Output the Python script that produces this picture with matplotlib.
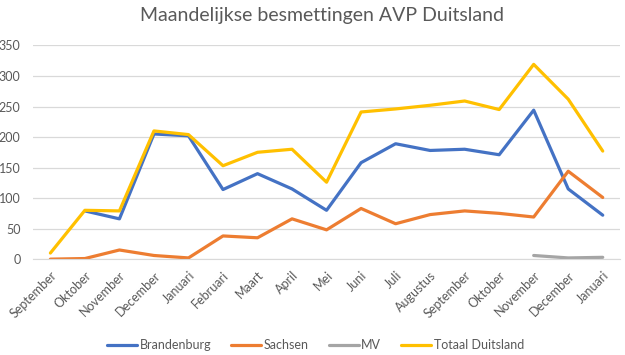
import matplotlib
matplotlib.use("Agg")
import matplotlib.pyplot as plt
import numpy as np

months = ["September", "Oktober", "November", "December", "Januari", "Februari", "Maart",
          "April", "Mei", "Juni", "Juli", "Augustus", "September", "Oktober", "November",
          "December", "Januari"]
brandenburg = [np.nan, 79, 66, 205, 202, 114, 140, 115, 80, 158, 189, 178, 180, 171, 244, 115, 72]
sachsen = [0, 1, 15, 6, 2, 38, 35, 66, 48, 83, 58, 73, 79, 75, 69, 144, 101]
mv = [np.nan] * 14 + [6, 2, 3]
totaal = [10, 80, 79, 210, 204, 153, 175, 180, 126, 241, 246, 252, 259, 245, 319, 262, 177]

plt.rcParams['font.family'] = ['Lato', 'DejaVu Sans']
fig = plt.figure(figsize=(6.25, 3.55), dpi=100)
ax = fig.add_axes([0.053, 0.270, 0.939, 0.602])

x = np.arange(len(months))
lw = 2.3
ax.plot(x, brandenburg, color="#4472C4", lw=lw, label="Brandenburg", solid_capstyle="round")
ax.plot(x, sachsen, color="#ED7D31", lw=lw, label="Sachsen", solid_capstyle="round")
ax.plot(x, mv, color="#A5A5A5", lw=lw, label="MV", solid_capstyle="round")
ax.plot(x, totaal, color="#FFC000", lw=lw, label="Totaal Duitsland", solid_capstyle="round")

ax.set_xlim(-0.5, len(months) - 0.5)
ax.set_ylim(0, 350)
ax.set_yticks(range(0, 351, 50))
ax.yaxis.grid(True, color="#D9D9D9", lw=0.9)
ax.set_axisbelow(True)
for s in ax.spines.values():
    s.set_visible(False)
ax.spines['bottom'].set_visible(True)
ax.spines['bottom'].set_color("#D9D9D9")
ax.tick_params(axis='both', length=0, colors="#595959", labelsize=9)
ax.tick_params(axis='y', pad=9)
ax.set_xticks(x)
ax.set_xticklabels(months, rotation=45, ha='right', rotation_mode='anchor')
ax.tick_params(axis='x', pad=7)

fig.text(0.516, 0.955, "Maandelijkse besmettingen AVP Duitsland", ha='center', va='center',
         fontsize=14, color="#595959")

leg = fig.legend(loc='center', bbox_to_anchor=(0.505, 0.028), ncol=4, frameon=False,
                 fontsize=9, handlelength=2.4, columnspacing=1.6, handletextpad=0.2)
for t in leg.get_texts():
    t.set_color("#595959")

fig.savefig("out.png", dpi=100)
